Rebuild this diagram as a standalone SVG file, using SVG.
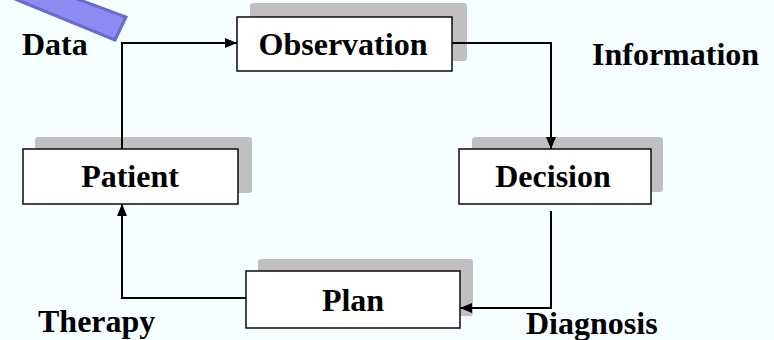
<svg xmlns="http://www.w3.org/2000/svg" width="774" height="340" viewBox="0 0 774 340">
  <defs>
    <marker id="arrow" viewBox="0 0 12 10" refX="12" refY="5" markerWidth="12" markerHeight="10" markerUnits="userSpaceOnUse" orient="auto">
      <path d="M0,0 L12,5 L0,10 Z" fill="#000"/>
    </marker>
  </defs>
  <style>
    .bg { fill: #F5FFFF; }
    .shadow { fill: #C0C0C0; }
    .box { fill: #FFFFFF; stroke: #1A1A1A; stroke-width: 1.6; }
    .label { font-family: "Liberation Serif", "Times New Roman", serif; font-weight: bold; font-size: 32px; fill: #000; }
    .mid { text-anchor: middle; }
    .conn { fill: none; stroke: #000; stroke-width: 2; }
  </style>

  <rect class="bg" x="0" y="0" width="774" height="340"/>

  <!-- decorative blue bar in the top-left corner -->
  <polygon points="10,-3 72,-3 126,17 115,40" fill="#8C8CF2" stroke="#6A6AD2" stroke-width="3" stroke-linejoin="miter"/>

  <g id="observation">
    <rect class="shadow" x="250" y="3" width="217" height="58" rx="3"/>
    <rect class="box" x="237" y="17" width="215" height="54"/>
    <text class="label mid" x="343" y="55">Observation</text>
  </g>

  <g id="decision">
    <rect class="shadow" x="472" y="137" width="191" height="55" rx="3"/>
    <rect class="box" x="459" y="149" width="192" height="55"/>
    <text class="label mid" x="553" y="187">Decision</text>
  </g>

  <g id="plan">
    <rect class="shadow" x="258" y="259" width="215" height="57" rx="3"/>
    <rect class="box" x="246" y="271" width="214" height="57"/>
    <text class="label mid" x="353" y="311">Plan</text>
  </g>

  <g id="patient">
    <rect class="shadow" x="35" y="137" width="217" height="56" rx="3"/>
    <rect class="box" x="23" y="149" width="215" height="55"/>
    <text class="label mid" x="130" y="187">Patient</text>
  </g>

  <!-- connectors, drawn over the box shadows -->
  <g id="connectors">
    <polyline class="conn" points="452,43 551,43 551,149" marker-end="url(#arrow)"/>
    <polyline class="conn" points="551,211 551,308 460,308" marker-end="url(#arrow)"/>
    <polyline class="conn" points="246,298 122,298 122,204" marker-end="url(#arrow)"/>
    <polyline class="conn" points="122,149 122,43 237,43" marker-end="url(#arrow)"/>
  </g>

  <!-- edge annotations -->
  <text class="label" x="22" y="55">Data</text>
  <text class="label" x="592" y="65">Information</text>
  <text class="label" x="526" y="334">Diagnosis</text>
  <text class="label" x="38" y="332">Therapy</text>
</svg>
